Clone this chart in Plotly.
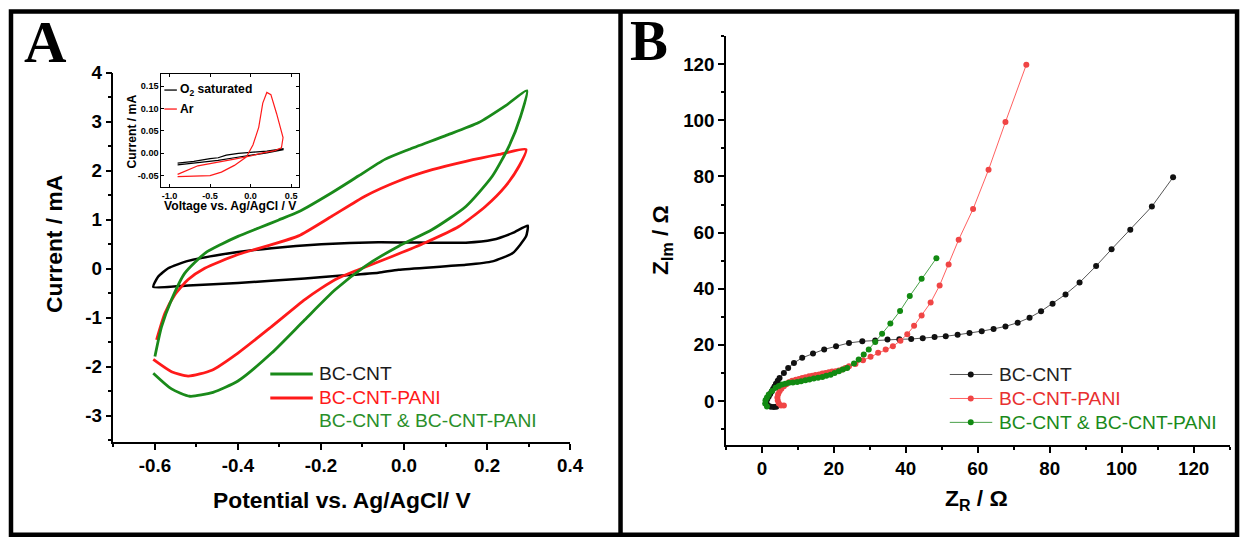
import plotly.graph_objects as go

# Figure canvas (page pixels) and the measured photo mapping: photo = S*page + O
W, H = 1256, 539
SX, OX = 0.9896, 0.5
SY, OY = 0.982, 9.9
FS = 1.0 / ((SX + SY) / 2)  # font compensation

FONT = "Liberation Sans, Arial, sans-serif"
SERIF = "Liberation Serif, Times New Roman, serif"

# ---------------- Panel A: cyclic voltammograms ----------------
cv_green_v = [-0.600, -0.584, -0.560, -0.528, -0.479, -0.440, -0.400, -0.350, -0.303, -0.254, -0.174,
              -0.110, -0.046, 0.011, 0.099, 0.180, 0.244, 0.296,
              0.281, 0.253, 0.213, 0.149, 0.068, -0.013, -0.094, -0.166, -0.239, -0.319, -0.400,
              -0.460, -0.516, -0.560, -0.604]
cv_green_i = [-1.79, -1.18, -0.63, -0.09, 0.32, 0.50, 0.66, 0.83, 0.99, 1.16, 1.55,
              1.89, 2.23, 2.43, 2.71, 2.98, 3.32, 3.63,
              3.11, 2.50, 1.89, 1.27, 0.80, 0.46, 0.05, -0.43, -1.04, -1.72, -2.29,
              -2.52, -2.60, -2.45, -2.13]

cv_red_v = [-0.596, -0.576, -0.552, -0.520, -0.480, -0.400, -0.319, -0.254, -0.174, -0.094, -0.013,
            0.068, 0.149, 0.229, 0.294,
            0.277, 0.244, 0.196, 0.132, 0.051, -0.029, -0.110, -0.158, -0.200, -0.239, -0.319,
            -0.400, -0.463, -0.520, -0.560, -0.604]
cv_red_i = [-1.45, -0.91, -0.53, -0.22, 0.01, 0.29, 0.49, 0.67, 1.07, 1.48, 1.79,
            2.02, 2.19, 2.33, 2.43,
            2.09, 1.68, 1.27, 0.86, 0.53, 0.25, -0.02, -0.19, -0.40, -0.63, -1.18,
            -1.72, -2.07, -2.19, -2.10, -1.85]

cv_black_v = [-0.604, -0.592, -0.568, -0.520, -0.440, -0.319, -0.199, -0.062, 0.068, 0.149, 0.213,
              0.262, 0.298,
              0.294, 0.262, 0.213, 0.149, -0.013, -0.062, -0.150, -0.239, -0.400, -0.520, -0.604]
cv_black_i = [-0.37, -0.16, 0.01, 0.16, 0.29, 0.42, 0.50, 0.54, 0.53, 0.53, 0.59,
              0.73, 0.88,
              0.66, 0.32, 0.15, 0.08, -0.02, -0.08, -0.14, -0.20, -0.29, -0.34, -0.37]

a_xticks = [-0.6, -0.4, -0.2, 0.0, 0.2, 0.4]
a_xtext = ["-0.6", "-0.4", "-0.2", "0.0", "0.2", "0.4"]
a_yticks = [-3, -2, -1, 0, 1, 2, 3, 4]
a_ytext = ["-3", "-2", "-1", "0", "1", "2", "3", "4"]

# ---------------- Inset ----------------
ins_o2_v = [-0.90, -0.70, -0.50, -0.40, -0.30, -0.15, 0.00, 0.20, 0.40,
            0.40, 0.20, 0.00, -0.20, -0.40, -0.60, -0.90]
ins_o2_i = [-0.022, -0.018, -0.012, -0.010, -0.004, 0.000, 0.002, 0.005, 0.010,
            0.008, 0.001, -0.004, -0.010, -0.016, -0.020, -0.026]
ins_ar_v = [-0.90, -0.70, -0.50, -0.36, -0.20, -0.05, 0.03, 0.10, 0.15, 0.20, 0.25, 0.32, 0.38, 0.40,
            0.38, 0.30, 0.15, 0.00, -0.20, -0.40, -0.65, -0.90]
ins_ar_i = [-0.052, -0.051, -0.050, -0.042, -0.027, -0.008, 0.019, 0.058, 0.112, 0.136, 0.131, 0.089,
            0.045, 0.035, 0.012, 0.006, 0.001, -0.006, -0.013, -0.020, -0.028, -0.047]
ins_xticks = [-1.0, -0.5, 0.0, 0.5]
ins_xtext = ["-1.0", "-0.5", "0.0", "0.5"]
ins_yticks = [-0.05, 0.0, 0.05, 0.10, 0.15]
ins_ytext = ["-0.05", "0.00", "0.05", "0.10", "0.15"]

# ---------------- Panel B: Nyquist ----------------
nq_black_zr = [4.0, 3.3, 2.5, 1.8, 1.3, 1.2, 1.5, 1.9, 2.3, 2.7, 3.1, 3.5, 3.9, 4.4, 4.9, 6.1, 7.3, 8.9,
               11.2, 14.2, 17.3, 20.6, 24.2, 27.9, 31.5, 34.9, 38.2, 41.5, 44.7, 48.0, 51.1, 54.4,
               57.7, 61.1, 64.4, 67.7, 71.1, 74.4, 77.6, 80.8, 84.4, 88.3, 92.9, 97.2, 102.4, 108.4, 114.3]
nq_black_zi = [-2.0, -2.1, -2.0, -1.7, -1.0, -0.2, 0.7, 1.6, 2.5, 3.4, 4.3, 5.2, 6.2, 7.2, 8.2, 10.0, 11.8, 13.6,
               15.4, 16.9, 18.4, 19.5, 20.7, 21.3, 21.6, 21.9, 22.0, 22.1, 22.4, 22.8, 23.1, 23.6,
               24.2, 24.9, 25.7, 26.6, 27.9, 29.7, 32.0, 34.7, 38.0, 42.2, 48.1, 54.1, 61.0, 69.3, 79.7]

nq_red_zr = [6.1, 5.3, 4.7, 4.4, 4.3, 4.5, 4.9, 5.4, 6.1, 6.8, 7.5, 8.4, 9.4, 10.3, 11.2, 12.1, 13.1, 14.0,
             14.9, 15.9, 16.8, 17.7, 18.6, 19.5, 20.5, 21.4, 22.3, 23.2, 24.2, 26.0, 28.1, 30.2, 32.3,
             34.4, 36.4, 38.5, 40.4, 42.3, 44.4, 46.9, 49.4, 51.9, 54.7, 58.7, 63.0, 67.7, 73.5]
nq_red_zi = [-1.6, -1.6, -0.9, 0.2, 1.3, 2.4, 3.5, 4.4, 5.3, 6.0, 6.7, 7.2, 7.6, 7.9, 8.2, 8.5, 8.8, 9.0,
             9.3, 9.5, 9.8, 10.0, 10.3, 10.5, 10.6, 10.9, 11.2, 11.8, 12.4, 13.2, 14.5, 15.8, 17.2,
             18.4, 19.5, 21.5, 23.8, 26.8, 30.5, 35.1, 41.2, 48.6, 57.5, 68.4, 82.4, 99.4, 119.8]

nq_green_zr = [1.4, 0.9, 1.0, 1.4, 1.9, 2.8, 3.8, 4.7, 5.6, 6.5, 7.5, 8.6, 9.8, 10.9, 12.1, 13.2, 14.4,
               15.6, 16.8, 17.9, 19.1, 20.2, 21.4, 22.5, 23.7, 25.6, 26.9, 28.3, 29.7, 31.5, 33.4,
               35.7, 38.4, 41.1, 44.4, 48.5]
nq_green_zi = [-1.9, -0.9, 0.3, 1.3, 2.3, 3.6, 4.7, 5.4, 5.9, 6.2, 6.5, 6.6, 6.8, 7.1, 7.4, 7.7, 8.0,
               8.3, 8.6, 9.0, 9.4, 10.0, 10.6, 11.2, 11.8, 13.4, 14.8, 16.6, 18.4, 21.0, 24.0,
               27.6, 32.1, 37.4, 43.6, 50.9]

GREEN = "#1a8a1a"
RED = "#ff1a1a"
B_BLACK = "#111111"
B_RED = "#f04545"
B_GREEN = "#128a12"


def px(x):
    """reference-picture x (pixels) -> paper fraction"""
    return ((x - OX) / SX) / W


def py(y):
    """reference-picture y (pixels from top) -> paper fraction"""
    return 1 - ((y - OY) / SY) / H


def fs(s):
    return round(s * FS, 2)


fig = go.Figure()

# Panel A traces
fig.add_trace(go.Scatter(x=cv_black_v, y=cv_black_i, mode="lines",
                         line=dict(color="black", width=2.5, shape="spline", smoothing=0.5),
                         xaxis="x", yaxis="y", showlegend=False))
fig.add_trace(go.Scatter(x=cv_red_v, y=cv_red_i, mode="lines", line=dict(color=RED, width=2.8, shape="spline", smoothing=0.6),
                         xaxis="x", yaxis="y", showlegend=False))
fig.add_trace(go.Scatter(x=cv_green_v, y=cv_green_i, mode="lines", line=dict(color=GREEN, width=2.8, shape="spline", smoothing=0.6),
                         xaxis="x", yaxis="y", showlegend=False))

# Inset traces
fig.add_trace(go.Scatter(x=ins_o2_v, y=ins_o2_i, mode="lines", line=dict(color="black", width=1.2),
                         xaxis="x3", yaxis="y3", showlegend=False))
fig.add_trace(go.Scatter(x=ins_ar_v, y=ins_ar_i, mode="lines", line=dict(color=RED, width=1.2),
                         xaxis="x3", yaxis="y3", showlegend=False))

# Panel B traces
fig.add_trace(go.Scatter(x=nq_black_zr, y=nq_black_zi, mode="lines+markers",
                         line=dict(color="#555555", width=1), marker=dict(color=B_BLACK, size=6),
                         xaxis="x2", yaxis="y2", showlegend=False))
fig.add_trace(go.Scatter(x=nq_red_zr, y=nq_red_zi, mode="lines+markers",
                         line=dict(color="#ff6060", width=1), marker=dict(color=B_RED, size=6),
                         xaxis="x2", yaxis="y2", showlegend=False))
fig.add_trace(go.Scatter(x=nq_green_zr, y=nq_green_zi, mode="lines+markers",
                         line=dict(color="#4aa04a", width=1), marker=dict(color=B_GREEN, size=6),
                         xaxis="x2", yaxis="y2", showlegend=False))

tickfont = dict(family=FONT, size=fs(18.5), color="black", weight="bold")
axis_common = dict(showline=True, linecolor="black", linewidth=1.5, ticks="outside", ticklen=6,
                   tickwidth=1.5, tickcolor="black", showgrid=False, zeroline=False, tickfont=tickfont)
minor_common = dict(ticks="outside", ticklen=3.5, tickcolor="black", tickwidth=1.5)
inset_tick = dict(family=FONT, size=fs(9), color="black", weight="bold")

fig.update_layout(
    width=W, height=H, margin=dict(l=0, r=0, t=0, b=0),
    paper_bgcolor="white", plot_bgcolor="white",
    xaxis=dict(domain=[px(114), px(571)], range=[-0.7, 0.4], tickmode="array", tickvals=a_xticks,
               ticktext=a_xtext, anchor="y", minor=dict(dtick=0.1, tick0=0, **minor_common),
               **axis_common),
    yaxis=dict(domain=[py(442), py(72.5)], range=[-3.53, 4.0], tickmode="array", tickvals=a_yticks,
               ticktext=a_ytext, anchor="x", minor=dict(dtick=0.5, tick0=0, **minor_common),
               **axis_common),
    xaxis2=dict(domain=[px(727), px(1231)], range=[-10, 130], dtick=20, tick0=0, anchor="y2",
                minor=dict(dtick=10, tick0=0, **minor_common), **axis_common),
    yaxis2=dict(domain=[py(445), py(36)], range=[-15.6, 130], dtick=20, tick0=0, anchor="x2",
                minor=dict(dtick=10, tick0=0, **minor_common), **axis_common),
    xaxis3=dict(domain=[px(162), px(300)], range=[-1.1, 0.6], tickmode="array", tickvals=ins_xticks,
                ticktext=ins_xtext, anchor="y3", showline=True, linecolor="black", linewidth=1,
                mirror="ticks", ticks="inside", ticklen=3, tickcolor="black", showgrid=False, zeroline=False,
                tickfont=inset_tick),
    yaxis3=dict(domain=[py(187.3), py(74)], range=[-0.076, 0.177], tickmode="array", tickvals=ins_yticks,
                ticktext=ins_ytext, anchor="x3", showline=True, linecolor="black", linewidth=1,
                mirror="ticks", ticks="inside", ticklen=3, tickcolor="black", showgrid=False, zeroline=False,
                tickfont=inset_tick),
)

shapes = []
annotations = []

# Panel borders (top edge kept just inside the canvas)
top_edge = max(8, OY + 1.6)
shapes.append(dict(type="rect", xref="paper", yref="paper", x0=px(11.5), x1=px(1238.5), y0=py(535), y1=py(top_edge),
                   line=dict(color="black", width=4.5)))
shapes.append(dict(type="line", xref="paper", yref="paper", x0=px(621.5), x1=px(621.5), y0=py(535), y1=py(top_edge),
                   line=dict(color="black", width=4.5)))

# Panel letters
annotations.append(dict(text="<b>A</b>", x=px(46.5), y=py(42), xref="paper", yref="paper", showarrow=False,
                        xanchor="center", yanchor="middle", font=dict(family=SERIF, size=fs(58), color="black")))
annotations.append(dict(text="<b>B</b>", x=px(650), y=py(40), xref="paper", yref="paper", showarrow=False,
                        xanchor="center", yanchor="middle", font=dict(family=SERIF, size=fs(56), color="black")))

# Axis titles
title_font = dict(family=FONT, size=fs(22.5), color="black", weight="bold")
annotations.append(dict(text="Current / mA", x=px(54.5), y=py(244), xref="paper", yref="paper", showarrow=False,
                        textangle=-90, xanchor="center", yanchor="middle", font=title_font))
annotations.append(dict(text="Potential vs. Ag/AgCl/ V", x=px(343), y=py(500), xref="paper", yref="paper",
                        showarrow=False, xanchor="center", yanchor="middle", font=title_font))
annotations.append(dict(text="Z<sub>Im</sub> / Ω", x=px(663), y=py(240), xref="paper", yref="paper",
                        showarrow=False, textangle=-90, xanchor="center", yanchor="middle", font=title_font))
annotations.append(dict(text="Z<sub>R</sub> / Ω", x=px(978), y=py(500), xref="paper", yref="paper",
                        showarrow=False, xanchor="center", yanchor="middle", font=title_font))

# Inset titles
inset_font = dict(family=FONT, size=fs(12), color="black", weight="bold")
annotations.append(dict(text="Current / mA", x=px(133), y=py(131), xref="paper", yref="paper", showarrow=False,
                        textangle=-90, xanchor="center", yanchor="middle", font=inset_font))
annotations.append(dict(text="Voltage vs. Ag/AgCl / V", x=px(231), y=py(206), xref="paper", yref="paper",
                        showarrow=False, xanchor="center", yanchor="middle", font=inset_font))

# Inset legend
for (txt, col, yy) in [("O<sub>2</sub> saturated", "black", 90), ("Ar", RED, 109)]:
    shapes.append(dict(type="line", xref="paper", yref="paper", x0=px(165), x1=px(177.5), y0=py(yy), y1=py(yy),
                       line=dict(color=col, width=1.3)))
    annotations.append(dict(text=txt, x=px(178.5), y=py(yy), xref="paper", yref="paper", showarrow=False,
                            xanchor="left", yanchor="middle", font=inset_font))

# Panel A legend
leg_font_size = fs(19)
for (txt, lcol, tcol, yy) in [("BC-CNT", GREEN, "#1a1a1a", 374), ("BC-CNT-PANI", RED, RED, 398),
                              ("BC-CNT & BC-CNT-PANI", None, "#2a8f2a", 421)]:
    if lcol:
        shapes.append(dict(type="line", xref="paper", yref="paper", x0=px(271), x1=px(313.5), y0=py(yy), y1=py(yy),
                           line=dict(color=lcol, width=3)))
    annotations.append(dict(text=txt, x=px(318), y=py(yy), xref="paper", yref="paper", showarrow=False,
                            xanchor="left", yanchor="middle", font=dict(family=FONT, size=leg_font_size, color=tcol)))

# Panel B legend
for (txt, lcol, mcol, tcol, yy) in [("BC-CNT", "#555555", B_BLACK, "#222222", 374.6),
                                    ("BC-CNT-PANI", "#ff6060", B_RED, "#e83030", 398.6),
                                    ("BC-CNT & BC-CNT-PANI", "#4aa04a", B_GREEN, "#1a8a1a", 422.5)]:
    shapes.append(dict(type="line", xref="paper", yref="paper", x0=px(951), x1=px(993.5), y0=py(yy), y1=py(yy),
                       line=dict(color=lcol, width=1)))
    shapes.append(dict(type="circle", xref="paper", yref="paper", x0=px(969), x1=px(975), y0=py(yy + 3), y1=py(yy - 3),
                       fillcolor=mcol, line=dict(color=mcol, width=0)))
    annotations.append(dict(text=txt, x=px(998), y=py(yy), xref="paper", yref="paper", showarrow=False,
                            xanchor="left", yanchor="middle", font=dict(family=FONT, size=leg_font_size, color=tcol)))

fig.update_layout(shapes=shapes, annotations=annotations)

fig.write_html(
    "out.html",
    config={"displayModeBar": False},
    post_script=(
        "var de=document.documentElement, bd=document.body;"
        "de.style.margin='0';de.style.padding='0';de.style.overflow='hidden';"
        "bd.style.margin='0';bd.style.padding='0';bd.style.overflow='hidden';"
        "var gd=document.querySelector('.plotly-graph-div');"
        "if(gd){gd.style.position='fixed';gd.style.left='0px';gd.style.top='0px';gd.style.margin='0';}"
    ),
)
